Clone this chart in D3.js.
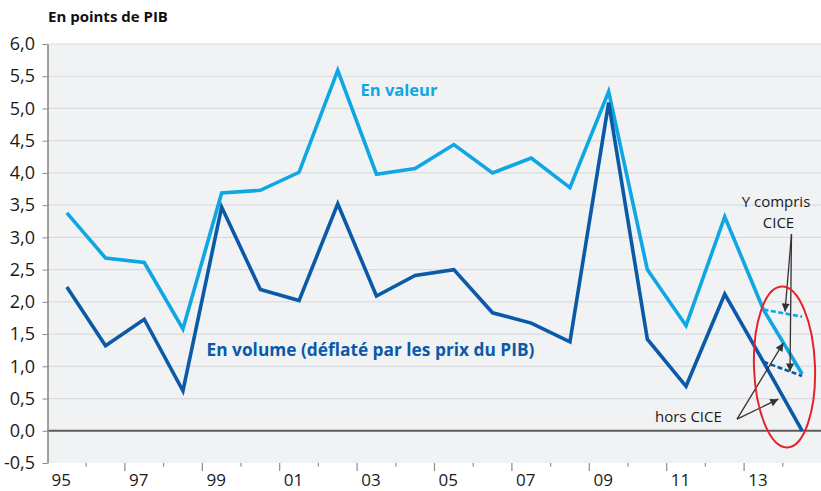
<!DOCTYPE html>
<html>
<head>
<meta charset="utf-8">
<script src="https://cdn.jsdelivr.net/npm/d3@7"></script>
<style>
  body { margin: 0; background: #fff; }
  svg { display: block; font-family: "Open Sans", sans-serif; }
</style>
</head>
<body>
<div id="chart"></div>
<script>
const years = ['95', '96', '97', '98', '99', '00', '01', '02', '03', '04',
  '05', '06', '07', '08', '09', '10', '11', '12', '13', '14']
const tickYears = ['95', '97', '99', '01', '03', '05', '07', '09', '11', '13']
const yTicks = [-0.5, 0, 0.5, 1, 1.5, 2, 2.5, 3, 3.5, 4, 4.5, 5, 5.5, 6]

// En valeur / En volume, hors CICE
const valeur = [3.38, 2.68, 2.61, 1.58, 3.69, 3.73, 4.01, 5.59, 3.98, 4.07,
  4.44, 4.00, 4.23, 3.77, 5.26, 2.50, 1.63, 3.32, 1.88, 0.88]
const volume = [2.23, 1.32, 1.73, 0.62, 3.47, 2.19, 2.02, 3.52, 2.09, 2.41,
  2.50, 1.83, 1.67, 1.38, 5.09, 1.42, 0.69, 2.12, 1.07, 0.00]

// y compris CICE (2013-2014)
const cicYears = ['13', '14']
const valeurCICE = [1.88, 1.77]
const volumeCICE = [1.07, 0.85]

const lightBlue = '#0ea7e4'
const darkBlue = '#0b5aa8'

const width = 821, height = 491
const plotLeft = 47.5, plotRight = 821.5, plotTop = 44, plotBottom = 463

const svg = d3.select('#chart')
  .append('svg')
  .attr('width', width)
  .attr('height', height)

const x = d3.scaleBand().domain(years).range([plotLeft, plotRight])
const xc = d => x(d) + x.bandwidth() / 2
// fractional category index -> pixel (for annotations)
const xi = d3.scaleLinear().domain([-0.5, years.length - 0.5]).range([plotLeft, plotRight])
const y = d3.scaleLinear().domain([-0.5, 6]).range([plotBottom, plotTop])

// plot background + grid
svg.append('rect')
  .attr('x', plotLeft).attr('y', plotTop)
  .attr('width', plotRight - plotLeft).attr('height', plotBottom - plotTop)
  .attr('fill', '#f1f2f4')

svg.append('g')
  .selectAll('line')
  .data(yTicks.filter(d => d > 0))
  .join('line')
  .attr('x1', plotLeft).attr('x2', plotRight)
  .attr('y1', d => y(d)).attr('y2', d => y(d))
  .attr('stroke', '#dadbde')
  .attr('stroke-width', 1.2)

svg.append('line')
  .attr('x1', plotLeft).attr('x2', plotRight)
  .attr('y1', y(0)).attr('y2', y(0))
  .attr('stroke', '#5c5c5c')
  .attr('stroke-width', 2)

// Y axis
const yAxis = svg.append('g')
  .attr('transform', `translate(${plotLeft},0)`)
  .call(d3.axisLeft(y)
    .tickValues(yTicks)
    .tickSize(5)
    .tickSizeOuter(0)
    .tickPadding(7.5)
    .tickFormat(d => d.toFixed(1).replace('.', ',')))
yAxis.select('.domain').attr('stroke', '#8a8a8a').attr('stroke-width', 1.6)
yAxis.selectAll('.tick line').attr('stroke', '#8a8a8a')
yAxis.selectAll('.tick text')
  .attr('font-size', 18)
  .attr('font-family', '"Open Sans", sans-serif')
  .attr('fill', '#1a1a1a')

// X axis : ticks between categories, long ones every two years
svg.append('g')
  .selectAll('line')
  .data(d3.range(1, years.length))
  .join('line')
  .attr('x1', k => xi(k - 0.5)).attr('x2', k => xi(k - 0.5))
  .attr('y1', plotBottom)
  .attr('y2', k => k % 2 === 0 ? plotBottom + 8 : plotBottom + 3.5)
  .attr('stroke', '#8a8a8a')
  .attr('stroke-width', 1.2)

svg.append('g')
  .selectAll('text')
  .data(tickYears)
  .join('text')
  .attr('x', d => xc(d) - 5.5)
  .attr('y', 486)
  .attr('text-anchor', 'middle')
  .attr('font-size', 17)
  .attr('fill', '#1a1a1a')
  .text(d => d)

// series
const line = d3.line()
  .x((d, i) => xc(years[i]))
  .y(d => y(d))
const lineCICE = d3.line()
  .x((d, i) => xc(cicYears[i]))
  .y(d => y(d))

svg.append('path')
  .attr('d', line(valeur))
  .attr('fill', 'none')
  .attr('stroke', lightBlue)
  .attr('stroke-width', 3.6)
  .attr('stroke-linejoin', 'miter')

svg.append('path')
  .attr('d', line(volume))
  .attr('fill', 'none')
  .attr('stroke', darkBlue)
  .attr('stroke-width', 3.6)
  .attr('stroke-linejoin', 'miter')

svg.append('path')
  .attr('d', lineCICE(valeurCICE))
  .attr('fill', 'none')
  .attr('stroke', lightBlue)
  .attr('stroke-width', 2.6)
  .attr('stroke-dasharray', '5,2.5')

svg.append('path')
  .attr('d', lineCICE(volumeCICE))
  .attr('fill', 'none')
  .attr('stroke', darkBlue)
  .attr('stroke-width', 2.6)
  .attr('stroke-dasharray', '5,2.5')

// text helper: scale font so the text spans the wanted width
const fit = (sel, w) => {
  const len = sel.node().getComputedTextLength()
  sel.attr('font-size', parseFloat(sel.attr('font-size')) * w / len)
  return sel
}

fit(svg.append('text')
  .attr('x', 48).attr('y', 21.5)
  .attr('font-size', 14)
  .attr('font-weight', 'bold')
  .attr('fill', '#111')
  .text('En points de PIB'), 120)

fit(svg.append('text')
  .attr('x', 360.5).attr('y', 96)
  .attr('font-size', 17)
  .attr('font-weight', 'bold')
  .attr('fill', lightBlue)
  .text('En valeur'), 77)

fit(svg.append('text')
  .attr('x', 206.5).attr('y', 356)
  .attr('font-size', 17)
  .attr('font-weight', 'bold')
  .attr('fill', darkBlue)
  .text('En volume (déflaté par les prix du PIB)'), 328)

svg.append('text')
  .attr('x', 776).attr('y', 207)
  .attr('text-anchor', 'middle')
  .attr('font-size', 15)
  .attr('fill', '#1a1a1a')
  .text('Y compris')

svg.append('text')
  .attr('x', 778.5).attr('y', 228)
  .attr('text-anchor', 'middle')
  .attr('font-size', 15)
  .attr('fill', '#1a1a1a')
  .text('CICE')

svg.append('text')
  .attr('x', 655).attr('y', 422)
  .attr('text-anchor', 'start')
  .attr('font-size', 15)
  .attr('fill', '#1a1a1a')
  .text('hors CICE')

// arrows, positions given as [category index, value]
svg.append('defs')
  .append('marker')
  .attr('id', 'head')
  .attr('viewBox', '0 0 10 10')
  .attr('refX', 10).attr('refY', 5)
  .attr('markerUnits', 'userSpaceOnUse')
  .attr('markerWidth', 11).attr('markerHeight', 8)
  .attr('orient', 'auto')
  .append('path')
  .attr('d', 'M0,0L10,5L0,10Z')
  .attr('fill', '#333')

const arrows = [
  [[18.725, 3.05], [18.557, 1.85]],
  [[18.725, 3.05], [18.686, 0.92]],
  [[17.317, 0.18], [18.513, 1.36]],
  [[17.317, 0.18], [18.384, 0.49]],
]
svg.append('g')
  .selectAll('line')
  .data(arrows)
  .join('line')
  .attr('x1', d => xi(d[0][0])).attr('y1', d => y(d[0][1]))
  .attr('x2', d => xi(d[1][0])).attr('y2', d => y(d[1][1]))
  .attr('stroke', '#333')
  .attr('stroke-width', 1.3)
  .attr('marker-end', 'url(#head)')

// red ellipse around the CICE years
svg.append('ellipse')
  .attr('cx', 0).attr('cy', 0)
  .attr('rx', 30.5).attr('ry', 80.5)
  .attr('transform', `translate(${xi(18.544)},${y(0.99)}) rotate(-2)`)
  .attr('fill', 'none')
  .attr('stroke', '#e3232b')
  .attr('stroke-width', 2)
</script>
</body>
</html>
